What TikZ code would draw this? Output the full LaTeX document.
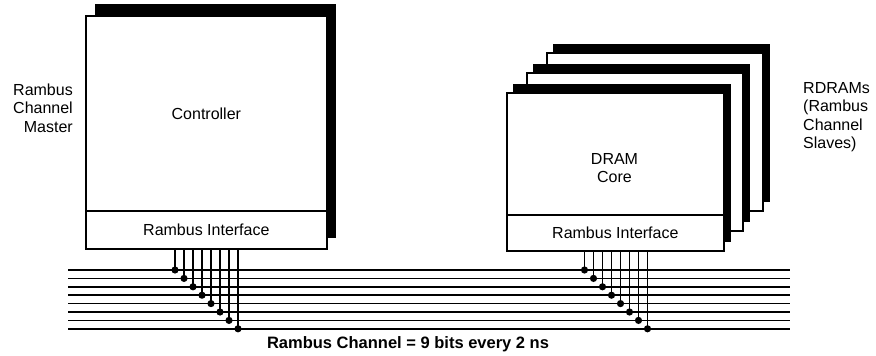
\documentclass[tikz,border=0pt]{standalone}
\usepackage{fontspec}
\setmainfont{Liberation Sans}
\begin{document}
\begin{tikzpicture}[x=1pt,y=-1pt,
  face/.style={draw=black, fill=white, line width=1.7pt, inner sep=0pt, anchor=north west},
  shade/.style={fill=black},
  bus/.style={line width=1.5pt},
  tap/.style={line width=1.5pt},
  lbl/.style={font=\fontsize{16}{18.5}\selectfont, inner sep=0pt},
  title/.style={font=\fontsize{16.5}{19}\selectfont\bfseries, inner sep=0pt},
  dotr/.style={fill=black}
]
\useasboundingbox (0,0) rectangle (876,356);

% ---------- Controller ----------
\fill[shade] (95,4) rectangle (336,238);
\node[face, minimum width=241pt, minimum height=195pt] (ctrl) at (85,15) {};
\node[face, minimum width=241pt, minimum height=38pt] (ctrlif) at (85,210) {};
\node[lbl] (ctrltxt) at (ctrl.center) {Controller};
\node[lbl] (ctrliftxt) at (ctrlif.center) {Rambus Interface};

% ---------- RDRAM stack ----------
\fill[shade] (553,44) rectangle (770,202);
\node[face, minimum width=216pt, minimum height=158pt] (d3) at (546,52) {};
\fill[shade] (533,64) rectangle (750,222);
\node[face, minimum width=216pt, minimum height=158pt] (d2) at (526,72) {};
\fill[shade] (513,84) rectangle (731,242);
\node[face, minimum width=217pt, minimum height=122pt] (dram) at (506,92) {};
\node[face, minimum width=217pt, minimum height=36pt] (dramif) at (506,214) {};
\node[lbl, align=center] (dramtxt) at (614.5,168) {DRAM\\Core};
\node[lbl] (dramiftxt) at (dramif.center) {Rambus Interface};

% ---------- side labels ----------
\node[lbl, align=right, anchor=east] (master) at (73,108) {Rambus\\Channel\\Master};
\node[lbl, align=left, anchor=west] (slaves) at (803,117) {RDRAMs\\(Rambus\\Channel\\Slaves)};

% ---------- channel ----------
\foreach \i in {0,...,7} {
  \pgfmathsetmacro\yy{270+8.4*\i}
  \coordinate (bs\i) at (68,\yy);
  \coordinate (be\i) at (790,\yy);
  \coordinate (dl\i) at ({175+9*\i},\yy);
  \coordinate (dr\i) at ({584.5+9*\i},\yy);
  \draw[bus] (bs\i) -- (be\i);
  \draw[tap] (ctrlif.south -| dl\i) -- (dl\i);
  \draw[tap] (dramif.south -| dr\i) -- (dr\i);
  \fill[dotr] (dl\i) circle (3.6pt);
  \fill[dotr] (dr\i) circle (3.6pt);
}

\node[title] (chan) at (408,344) {Rambus Channel = 9 bits every 2 ns};
\end{tikzpicture}
\end{document}
